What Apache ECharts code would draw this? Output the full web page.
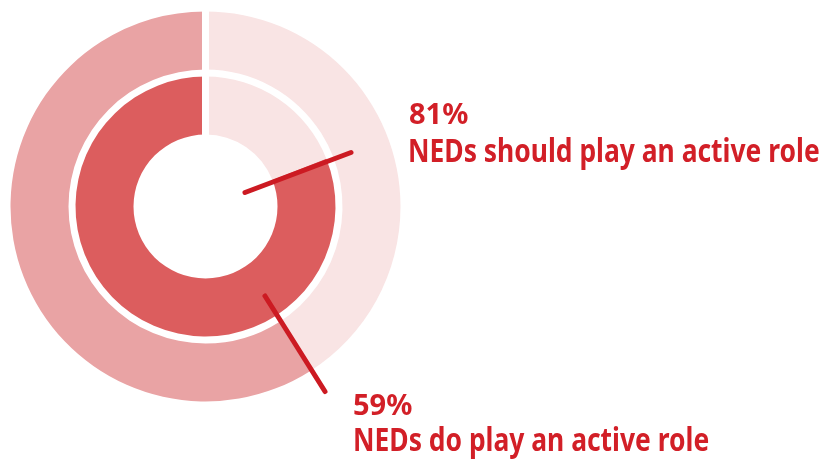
<!DOCTYPE html>
<html>
<head>
<meta charset="utf-8">
<script src="https://cdn.jsdelivr.net/npm/echarts@6/dist/echarts.min.js"></script>
<style>
  html, body { margin: 0; padding: 0; background: #fff; }
  #chart { width: 828px; height: 462px; }
</style>
</head>
<body>
<div id="chart"></div>
<script>
  // share of respondents, outer ring = "do", inner ring = "should"
  var ringNames = ['NEDs do play an active role', 'NEDs should play an active role'];
  var yesValues = [59, 81];
  var restValues = [41, 19];

  var textRed = '#d21f27';
  var lineRed = '#cc1a22';
  var font = 'bold 32px "Noto Sans", sans-serif';
  var pctFont = 'bold 29px "Noto Sans", sans-serif';
  var squeeze = 0.826; // condensed look of the original face

  var chart = echarts.init(document.getElementById('chart'));

  var option = {
    backgroundColor: '#ffffff',
    animation: false,
    series: [
      {
        name: ringNames[0],
        type: 'pie',
        center: [205.5, 206.5],
        radius: [137, 195],
        startAngle: 90,
        clockwise: true,
        label: { show: false },
        labelLine: { show: false },
        silent: true,
        data: [
          { value: restValues[0], name: 'rest', itemStyle: { color: '#f9e4e4' } },
          { value: yesValues[0], name: ringNames[0], itemStyle: { color: '#e9a3a4' } }
        ]
      },
      {
        name: ringNames[1],
        type: 'pie',
        center: [205.5, 206.5],
        radius: [72, 130],
        startAngle: 90,
        clockwise: true,
        label: { show: false },
        labelLine: { show: false },
        silent: true,
        data: [
          { value: restValues[1], name: 'rest', itemStyle: { color: '#f9e4e4' } },
          { value: yesValues[1], name: ringNames[1], itemStyle: { color: '#dc5d5e' } }
        ]
      }
    ],
    graphic: [
      // white split at 12 o'clock
      { type: 'rect', z: 50, shape: { x: 202, y: 0, width: 7, height: 140 }, style: { fill: '#fff' } },
      // leader lines
      { type: 'line', z: 60, shape: { x1: 245, y1: 192.5, x2: 351, y2: 152.5 },
        style: { stroke: lineRed, lineWidth: 5, lineCap: 'round' } },
      { type: 'line', z: 60, shape: { x1: 265, y1: 296, x2: 325, y2: 391.5 },
        style: { stroke: lineRed, lineWidth: 5, lineCap: 'round' } },
      // labels
      { type: 'text', z: 60, x: 409, y: 115.5,
        style: { text: yesValues[1] + '%', fill: textRed, font: pctFont, verticalAlign: 'middle' } },
      { type: 'text', z: 60, x: 408, y: 152.5, scaleX: squeeze,
        style: { text: ringNames[1], fill: textRed, font: font, verticalAlign: 'middle' } },
      { type: 'text', z: 60, x: 353, y: 406.5,
        style: { text: yesValues[0] + '%', fill: textRed, font: pctFont, verticalAlign: 'middle' } },
      { type: 'text', z: 60, x: 353, y: 442, scaleX: squeeze,
        style: { text: ringNames[0], fill: textRed, font: font, verticalAlign: 'middle' } }
    ]
  };

  chart.setOption(option);
</script>
</body>
</html>
